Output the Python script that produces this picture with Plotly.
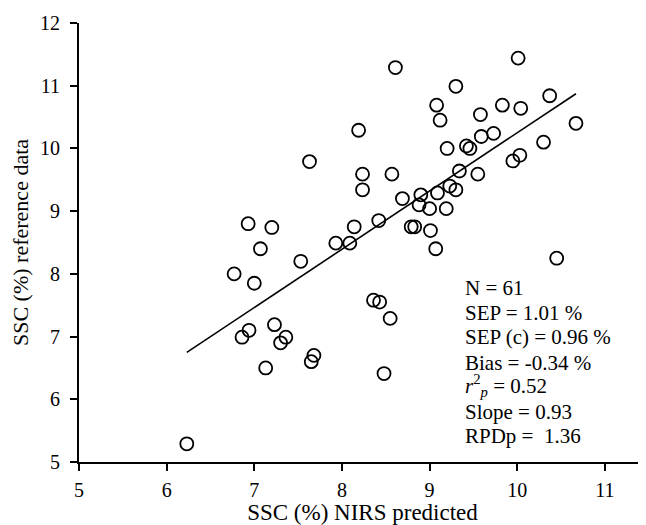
import plotly.graph_objects as go

# Data
nirs_predicted = [
    8.19, 7.63, 8.235, 8.235, 6.93, 7.20, 7.07, 8.14, 7.93, 8.09,
    7.53, 8.61, 10.01, 9.30, 9.08, 9.12, 9.58, 9.83, 10.04, 10.37,
    10.67, 9.20, 9.42, 9.46, 9.59, 9.73, 10.30, 10.03, 9.95, 8.57,
    9.34, 9.55, 8.42, 8.69, 8.90, 8.88, 9.00, 9.09, 9.23, 9.30,
    9.19, 8.79, 8.83, 9.01, 9.07, 10.45, 6.77, 7.00, 8.36, 8.43,
    8.55, 8.48, 7.23, 6.94, 6.86, 7.36, 7.30, 7.68, 7.65, 7.13,
    6.23,
]
reference_data = [
    10.29, 9.79, 9.59, 9.34, 8.80, 8.74, 8.40, 8.75, 8.49, 8.49,
    8.20, 11.29, 11.44, 10.99, 10.69, 10.45, 10.54, 10.69, 10.64, 10.84,
    10.40, 10.00, 10.04, 10.00, 10.19, 10.24, 10.10, 9.89, 9.80, 9.59,
    9.64, 9.59, 8.85, 9.20, 9.26, 9.10, 9.04, 9.29, 9.40, 9.34,
    9.04, 8.75, 8.75, 8.69, 8.40, 8.25, 8.00, 7.85, 7.58, 7.55,
    7.29, 6.41, 7.19, 7.10, 6.99, 6.99, 6.90, 6.70, 6.60, 6.50,
    5.29,
]

fit_slope = 0.929
fit_intercept = 0.96

stats_lines = [
    "N = 61",
    "SEP = 1.01 %",
    "SEP (c) = 0.96 %",
    "Bias = -0.34 %",
    "<i>r</i><sup>2</sup><sub><i>p</i></sub> = 0.52",
    "Slope = 0.93",
    "RPDp =\u00a0\u00a01.36",
]
# vertical placement (data units) of each stats line
stats_y = [7.78, 7.37, 6.99, 6.585, 6.22, 5.80, 5.41]

x_ticks = [5, 6, 7, 8, 9, 10, 11]
y_ticks = [5, 6, 7, 8, 9, 10, 11, 12]

FONT = "Liberation Serif, Times New Roman, serif"

line_x = [min(nirs_predicted), max(nirs_predicted)]
line_y = [fit_slope * v + fit_intercept for v in line_x]

fig = go.Figure()
fig.add_trace(go.Scatter(
    x=line_x, y=line_y, mode="lines",
    line=dict(color="black", width=1.6),
    hoverinfo="skip", showlegend=False,
))
fig.add_trace(go.Scatter(
    x=nirs_predicted, y=reference_data, mode="markers",
    marker=dict(symbol="circle-open", size=13, color="black",
                line=dict(color="black", width=1.8)),
    showlegend=False,
))

for txt, yy in zip(stats_lines, stats_y):
    fig.add_annotation(
        x=9.385, y=yy,
        xref="x", yref="y", text=txt, showarrow=False,
        xanchor="left", yanchor="middle", align="left",
        font=dict(family=FONT, size=21, color="black"),
    )

axis_common = dict(
    showgrid=False, zeroline=False, showline=True,
    linecolor="black", linewidth=2,
    ticks="outside", ticklen=7, tickwidth=2, tickcolor="black",
    tickfont=dict(family=FONT, size=20, color="black"),
)

fig.update_xaxes(
    range=[5, 11.469], tickvals=x_ticks,
    title=dict(text="SSC (%) NIRS predicted",
               font=dict(family=FONT, size=23, color="black"), standoff=8),
    ticklabelstandoff=2,
    **axis_common,
)
fig.update_yaxes(
    range=[5, 12], tickvals=y_ticks,
    title=dict(text="SSC (%) reference data",
               font=dict(family=FONT, size=22, color="black"), standoff=10),
    ticklabelstandoff=6,
    **axis_common,
)

# the page body adds an 8px margin, so the figure is 8px smaller
fig.update_layout(
    width=638, height=517,
    margin=dict(l=71, r=0, t=15, b=59),
    paper_bgcolor="white", plot_bgcolor="white",
    showlegend=False,
)

fig.write_html("out.html")
